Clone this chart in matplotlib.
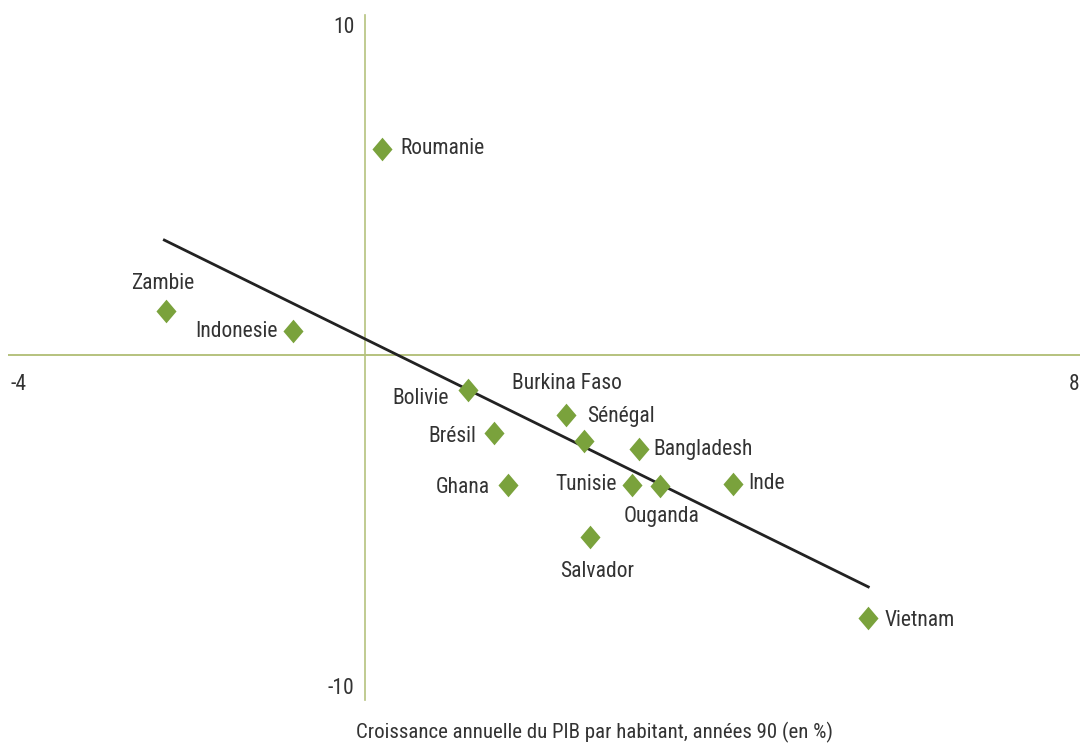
import matplotlib
matplotlib.use("Agg")
import matplotlib.pyplot as plt
from matplotlib import font_manager

# Datos: croissance du PIB par habitant (x) contre variation (y)
pays = ["Roumanie", "Zambie", "Indonesie", "Bolivie", "Brésil", "Burkina Faso",
        "Sénégal", "Bangladesh", "Tunisie", "Ouganda", "Inde", "Ghana",
        "Salvador", "Vietnam"]
croissance = [0.19, -2.23, -0.81, 1.15, 1.44, 2.25, 2.45, 3.06, 2.98, 3.30,
              4.12, 1.60, 2.51, 5.63]
variation = [6.06, 1.29, 0.71, -1.03, -2.29, -1.76, -2.53, -2.76, -3.82,
             -3.85, -3.79, -3.82, -5.35, -7.74]

# droite de tendance (extremos)
tendance_x = [-2.25, 5.63]
tendance_y = [3.38, -6.82]

# posicion de cada etiqueta respecto al marcador (pixeles) y alineacion
decalage = {
    "Roumanie": (18, 0, "left"),
    "Zambie": (-3, 28, "center"),
    "Indonesie": (-15, -1, "right"),
    "Bolivie": (-19, -8, "right"),
    "Brésil": (-18, -4, "right"),
    "Burkina Faso": (1, 31, "center"),
    "Sénégal": (3, 25, "left"),
    "Bangladesh": (15, -1, "left"),
    "Tunisie": (-15, 0, "right"),
    "Ouganda": (1, -31, "center"),
    "Inde": (15, 0, "left"),
    "Ghana": (-18, -3, "right"),
    "Salvador": (8, -35, "center"),
    "Vietnam": (16, -2, "left"),
}

# buscar una fuente estrecha si esta instalada
noms = {f.name for f in font_manager.fontManager.ttflist}
etroite = None
for candidat in ["Roboto Condensed", "Liberation Sans Narrow", "DejaVu Sans Condensed",
                 "Open Sans Condensed"]:
    if candidat in noms:
        etroite = candidat
        break
if etroite:
    plt.rcParams["font.family"] = [etroite, "DejaVu Sans"]
    taille = 15.5
else:
    plt.rcParams["font.family"] = ["DejaVu Sans"]
    taille = 12.5

vert = "#7aa23c"
axe = "#b5c27e"
texte = "#333333"

# rombo un poco mas alto que ancho
losange = [(0, 1), (0.85, 0), (0, -1), (-0.85, 0), (0, 1)]

fig = plt.figure(figsize=(10.8, 7.49), dpi=100)
ax = fig.add_axes([8 / 1080, 1 - 695 / 749, 1072 / 1080, 680 / 749])
ax.set_xlim(-4, 8)
ax.set_ylim(-10, 10)
ax.axis("off")

# ejes en cruz
ax.axhline(0, color=axe, lw=1.4, zorder=1)
ax.plot([0, 0], [10.0, -10.15], color=axe, lw=1.2, zorder=1, clip_on=False)

# tendencia y puntos
ax.plot(tendance_x, tendance_y, color="#222222", lw=2, zorder=2)
ax.plot(croissance, variation, marker=losange, color=vert, ms=17, mew=0,
        zorder=3, linestyle="none")

for nom, x, y in zip(pays, croissance, variation):
    dx, dy, ha = decalage[nom]
    ax.annotate(nom, (x, y), xytext=(dx, dy), textcoords="offset pixels",
                ha=ha, va="center", fontsize=taille, color=texte)

# etiquetas de los ejes
ax.text(-0.12, 9.62, "10", ha="right", va="center", fontsize=taille, color=texte)
ax.text(-0.12, -9.8, "-10", ha="right", va="center", fontsize=taille, color=texte)
ax.text(-3.97, -0.88, "-4", ha="left", va="center", fontsize=taille, color=texte)
ax.text(7.99, -0.88, "8", ha="right", va="center", fontsize=taille, color=texte)

fig.text(595 / 1080, 1 - 732 / 749,
         "Croissance annuelle du PIB par habitant, années 90 (en %)",
         ha="center", va="center", fontsize=taille - 0.5, color=texte)

fig.savefig("out.png", dpi=100, facecolor="white")
